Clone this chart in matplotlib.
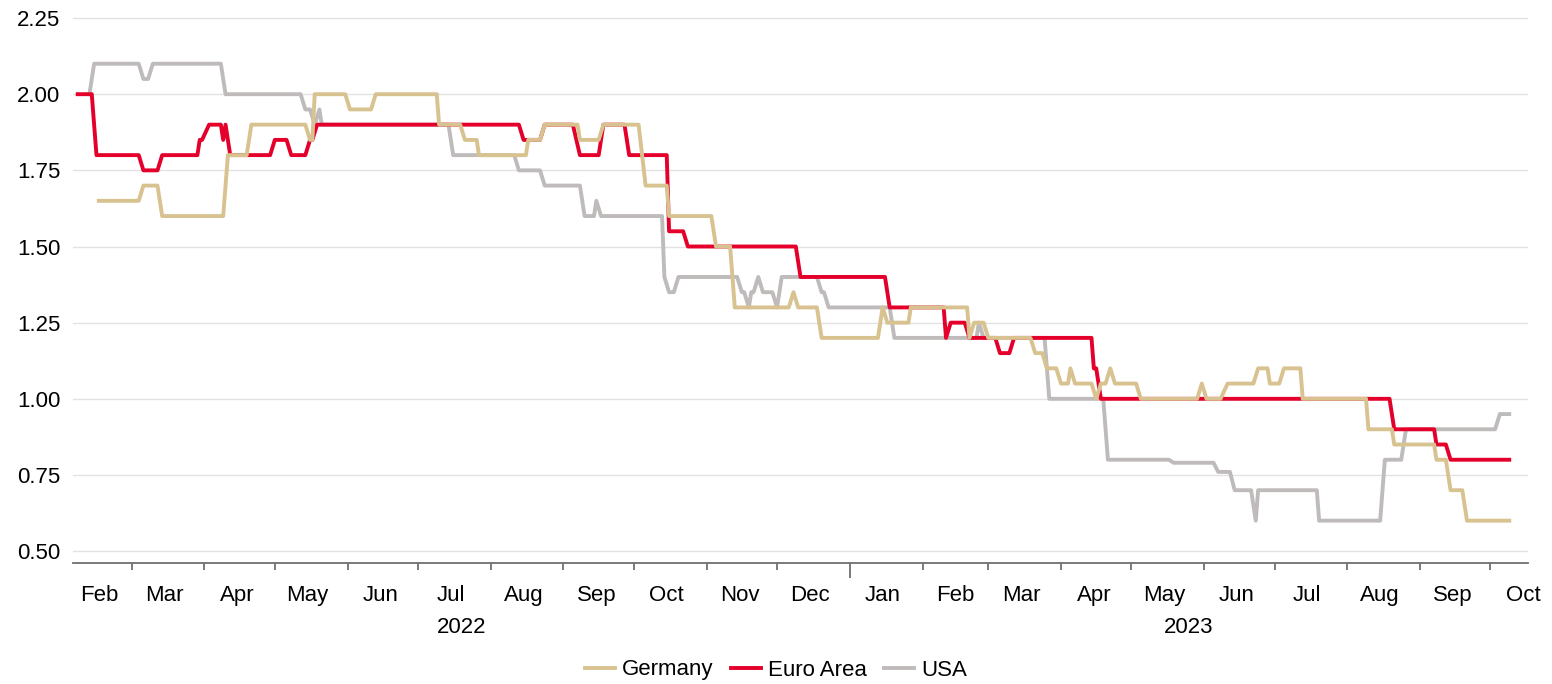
import numpy as np
import pandas as pd
import matplotlib
matplotlib.use("Agg")
import matplotlib.pyplot as plt
import matplotlib.dates as mdates
import matplotlib.ticker as mticker

plt.rcParams['font.family'] = ['Liberation Sans', 'DejaVu Sans']

# Germany
germany_dates = [
    "2022-02-15", "2022-03-04", "2022-03-06", "2022-03-12", "2022-03-14", "2022-04-09",
    "2022-04-11", "2022-04-19", "2022-04-21", "2022-05-14", "2022-05-16", "2022-05-17",
    "2022-05-18", "2022-05-31", "2022-06-02", "2022-06-11", "2022-06-13", "2022-07-09",
    "2022-07-10", "2022-07-19", "2022-07-21", "2022-07-26", "2022-07-27", "2022-08-16",
    "2022-08-17", "2022-08-22", "2022-08-24", "2022-09-07", "2022-09-08", "2022-09-16",
    "2022-09-18", "2022-10-03", "2022-10-06", "2022-10-15", "2022-10-16", "2022-11-03",
    "2022-11-05", "2022-11-11", "2022-11-13", "2022-12-06", "2022-12-08", "2022-12-10",
    "2022-12-18", "2022-12-20", "2023-01-13", "2023-01-15", "2023-01-17", "2023-01-26",
    "2023-01-27", "2023-02-20", "2023-02-21", "2023-02-23", "2023-02-27", "2023-03-01",
    "2023-03-19", "2023-03-21", "2023-03-24", "2023-03-26", "2023-03-30", "2023-04-01",
    "2023-04-04", "2023-04-05", "2023-04-07", "2023-04-14", "2023-04-16", "2023-04-18",
    "2023-04-20", "2023-04-22", "2023-04-24", "2023-05-03", "2023-05-05", "2023-05-29",
    "2023-05-31", "2023-06-02", "2023-06-08", "2023-06-11", "2023-06-22", "2023-06-24",
    "2023-06-28", "2023-06-29", "2023-07-03", "2023-07-05", "2023-07-12", "2023-07-13",
    "2023-08-09", "2023-08-10", "2023-08-20", "2023-08-21", "2023-09-07", "2023-09-08",
    "2023-09-12", "2023-09-14", "2023-09-19", "2023-09-21", "2023-10-09",
]
germany_vals = [
    1.65, 1.65, 1.70, 1.70, 1.60, 1.60,
    1.80, 1.80, 1.90, 1.90, 1.85, 1.85,
    2.00, 2.00, 1.95, 1.95, 2.00, 2.00,
    1.90, 1.90, 1.85, 1.85, 1.80, 1.80,
    1.85, 1.85, 1.90, 1.90, 1.85, 1.85,
    1.90, 1.90, 1.70, 1.70, 1.60, 1.60,
    1.50, 1.50, 1.30, 1.30, 1.35, 1.30,
    1.30, 1.20, 1.20, 1.30, 1.25, 1.25,
    1.30, 1.30, 1.20, 1.25, 1.25, 1.20,
    1.20, 1.15, 1.15, 1.10, 1.10, 1.05,
    1.05, 1.10, 1.05, 1.05, 1.00, 1.05,
    1.05, 1.10, 1.05, 1.05, 1.00, 1.00,
    1.05, 1.00, 1.00, 1.05, 1.05, 1.10,
    1.10, 1.05, 1.05, 1.10, 1.10, 1.00,
    1.00, 0.90, 0.90, 0.85, 0.85, 0.80,
    0.80, 0.70, 0.70, 0.60, 0.60,
]

# Euro Area
euro_dates = [
    "2022-02-06", "2022-02-12", "2022-02-14", "2022-03-04", "2022-03-06", "2022-03-12",
    "2022-03-14", "2022-03-29", "2022-03-30", "2022-03-31", "2022-04-03", "2022-04-08",
    "2022-04-09", "2022-04-10", "2022-04-12", "2022-04-29", "2022-05-01", "2022-05-06",
    "2022-05-08", "2022-05-14", "2022-05-16", "2022-05-17", "2022-05-19", "2022-08-13",
    "2022-08-15", "2022-08-22", "2022-08-24", "2022-09-05", "2022-09-08", "2022-09-16",
    "2022-09-18", "2022-09-27", "2022-09-29", "2022-10-15", "2022-10-16", "2022-10-22",
    "2022-10-24", "2022-12-09", "2022-12-11", "2023-01-16", "2023-01-18", "2023-02-10",
    "2023-02-11", "2023-02-13", "2023-02-19", "2023-02-21", "2023-03-04", "2023-03-06",
    "2023-03-10", "2023-03-12", "2023-04-14", "2023-04-15", "2023-04-16", "2023-04-18",
    "2023-08-19", "2023-08-21", "2023-09-07", "2023-09-08", "2023-09-12", "2023-09-14",
    "2023-10-09",
]
euro_vals = [
    2.00, 2.00, 1.80, 1.80, 1.75, 1.75,
    1.80, 1.80, 1.85, 1.85, 1.90, 1.90,
    1.85, 1.90, 1.80, 1.80, 1.85, 1.85,
    1.80, 1.80, 1.85, 1.85, 1.90, 1.90,
    1.85, 1.85, 1.90, 1.90, 1.80, 1.80,
    1.90, 1.90, 1.80, 1.80, 1.55, 1.55,
    1.50, 1.50, 1.40, 1.40, 1.30, 1.30,
    1.20, 1.25, 1.25, 1.20, 1.20, 1.15,
    1.15, 1.20, 1.20, 1.10, 1.10, 1.00,
    1.00, 0.90, 0.90, 0.85, 0.85, 0.80,
    0.80,
]

# USA
usa_dates = [
    "2022-02-11", "2022-02-13", "2022-03-04", "2022-03-06", "2022-03-08", "2022-03-10",
    "2022-04-08", "2022-04-10", "2022-05-12", "2022-05-14", "2022-05-16", "2022-05-18",
    "2022-05-20", "2022-05-21", "2022-07-14", "2022-07-16", "2022-08-11", "2022-08-13",
    "2022-08-22", "2022-08-24", "2022-09-08", "2022-09-10", "2022-09-14", "2022-09-15",
    "2022-09-17", "2022-10-13", "2022-10-14", "2022-10-16", "2022-10-18", "2022-10-20",
    "2022-11-14", "2022-11-16", "2022-11-17", "2022-11-19", "2022-11-20", "2022-11-21",
    "2022-11-23", "2022-11-25", "2022-11-29", "2022-12-01", "2022-12-03", "2022-12-18",
    "2022-12-20", "2022-12-21", "2022-12-23", "2023-01-18", "2023-01-20", "2023-02-24",
    "2023-02-25", "2023-02-27", "2023-03-25", "2023-03-27", "2023-04-19", "2023-04-21",
    "2023-05-17", "2023-05-19", "2023-06-05", "2023-06-07", "2023-06-12", "2023-06-14",
    "2023-06-21", "2023-06-23", "2023-06-24", "2023-07-19", "2023-07-20", "2023-08-15",
    "2023-08-17", "2023-08-24", "2023-08-26", "2023-10-03", "2023-10-05", "2023-10-09",
]
usa_vals = [
    2.00, 2.10, 2.10, 2.05, 2.05, 2.10,
    2.10, 2.00, 2.00, 1.95, 1.95, 1.90,
    1.95, 1.90, 1.90, 1.80, 1.80, 1.75,
    1.75, 1.70, 1.70, 1.60, 1.60, 1.65,
    1.60, 1.60, 1.40, 1.35, 1.35, 1.40,
    1.40, 1.35, 1.35, 1.30, 1.35, 1.35,
    1.40, 1.35, 1.35, 1.30, 1.40, 1.40,
    1.35, 1.35, 1.30, 1.30, 1.20, 1.20,
    1.25, 1.20, 1.20, 1.00, 1.00, 0.80,
    0.80, 0.79, 0.79, 0.76, 0.76, 0.70,
    0.70, 0.60, 0.70, 0.70, 0.60, 0.60,
    0.80, 0.80, 0.90, 0.90, 0.95, 0.95,
]

series = [
    ("Germany", germany_dates, germany_vals, "#d8c290", 3),
    ("Euro Area", euro_dates, euro_vals, "#e4002b", 2),
    ("USA", usa_dates, usa_vals, "#bfbbbb", 1),
]

fig = plt.figure(figsize=(15.52, 6.84), dpi=100)
ax = fig.add_axes([73 / 1552, 121 / 684, 1455 / 1552, 548 / 684])

for name, d, v, col, z in series:
    ax.plot(pd.to_datetime(d), v, color=col, lw=2.8, label=name, zorder=z,
            solid_joinstyle="round")

ax.set_xlim(pd.Timestamp("2022-02-04"), pd.Timestamp("2023-10-17"))
ax.set_ylim(0.461, 2.26)

# y axis: labels and light gridlines only
ax.set_yticks(np.arange(0.5, 2.26, 0.25))
ax.yaxis.set_major_formatter(mticker.FormatStrFormatter("%.2f"))
ax.tick_params(axis="y", length=0, labelsize=16, pad=9, labelcolor="#000000")
ax.grid(axis="y", color="#e2e2e2", lw=1.0)
ax.set_axisbelow(True)

for s in ["top", "right", "left"]:
    ax.spines[s].set_visible(False)
ax.spines["bottom"].set_color("#707070")
ax.spines["bottom"].set_linewidth(1.3)

# x axis: ticks at month starts, month names mid-month
ax.xaxis.set_major_locator(mdates.MonthLocator(bymonthday=1))
ax.xaxis.set_major_formatter(mticker.NullFormatter())
ax.xaxis.set_minor_locator(mdates.MonthLocator(bymonthday=15))
ax.xaxis.set_minor_formatter(mdates.DateFormatter("%b"))
ax.tick_params(axis="x", which="major", length=5, width=1.3, color="#707070")
ax.tick_params(axis="x", which="minor", length=0, labelsize=16, pad=16)

locs = ax.xaxis.get_majorticklocs()
for loc, tick in zip(locs, ax.xaxis.get_major_ticks(len(locs))):
    if mdates.num2date(loc).month == 1:
        tick.tick1line.set_markersize(11)

# year labels centred under each year's visible span
x0, x1 = ax.get_xlim()
jan23 = mdates.date2num(pd.Timestamp("2023-01-01"))
trans = ax.get_xaxis_transform()
ax.text((x0 + jan23) / 2, -0.118, "2022", transform=trans, ha="center", va="center", fontsize=16)
ax.text((jan23 + x1) / 2, -0.118, "2023", transform=trans, ha="center", va="center", fontsize=16)

fig.legend(loc="center", bbox_to_anchor=(0.5, 14 / 684), ncol=3, frameon=False,
           fontsize=16, handlelength=1.35, handletextpad=0.3, columnspacing=0.8)

fig.savefig("out.png", dpi=100)
